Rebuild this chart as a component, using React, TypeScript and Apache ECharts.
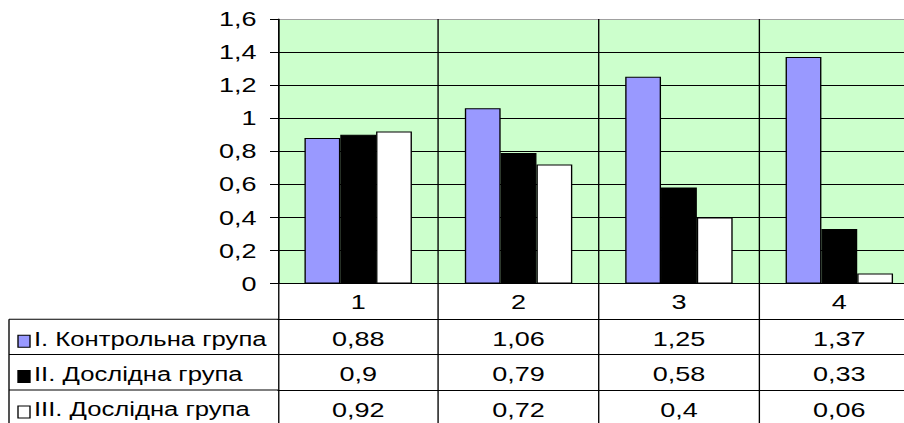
import React, { useEffect, useRef } from "react";
import * as echarts from "echarts";

const categories = ["1", "2", "3", "4"];
const seriesNames = ["I. Контрольна група", "II. Дослідна група", "III. Дослідна група"];
const controlGroup = [0.88, 1.06, 1.25, 1.37];
const experimentalGroup2 = [0.9, 0.79, 0.58, 0.33];
const experimentalGroup3 = [0.92, 0.72, 0.4, 0.06];
const seriesColors = ["#9999FF", "#000000", "#FFFFFF"];
const yMin = 0;
const yMax = 1.6;
const yStep = 0.2;

const SX = 1.35;
const W = 904;
const H = 423;
const CW = W / SX;
const FONT = "'Liberation Sans', Arial, sans-serif";
const FS = 20;

const fmt = (v: number) => String(v).replace(".", ",");

export default function App() {
  const ref = useRef<HTMLDivElement>(null);
  useEffect(() => {
    document.body.style.margin = "0";
    document.body.style.overflow = "hidden";
    if (!ref.current) return;
    const chart = echarts.init(ref.current, undefined, { renderer: "svg" });
    const allSeries = [controlGroup, experimentalGroup2, experimentalGroup3];

    const axisTop = 283.5;
    const rowH = 35.4;
    const firstRow = 35.7;

    const rowAxes = allSeries.map((vals, i) => ({
      type: "category",
      data: vals.map(fmt),
      position: "bottom",
      offset: firstRow + i * rowH,
      axisLine: { show: true, lineStyle: { color: "#000", width: 1 } },
      axisTick: { show: true, interval: 0, length: rowH, lineStyle: { color: "#000", width: 1 } },
      axisLabel: { interval: 0, margin: 9.5, fontSize: FS, color: "#000", fontFamily: FONT },
      splitLine: { show: false },
    }));

    const graphic: any[] = [];
    const tableLeft = 9 / SX;
    const tableRight = 278 / SX;
    for (let i = 0; i < 3; i++) {
      const y = axisTop + firstRow + i * rowH;
      graphic.push({
        type: "line",
        shape: { x1: tableLeft, y1: y, x2: tableRight, y2: y },
        style: { stroke: "#000", lineWidth: 1 },
      });
    }
    graphic.push({
      type: "line",
      shape: { x1: tableLeft, y1: axisTop + firstRow, x2: tableLeft, y2: H + 5 },
      style: { stroke: "#000", lineWidth: 1 },
    });
    seriesNames.forEach((name, i) => {
      const cy = axisTop + firstRow + i * rowH + 19.5;
      graphic.push({
        type: "rect",
        shape: { x: 18 / SX, y: cy - 3.5, width: 12 / SX, height: 12 },
        style: { fill: seriesColors[i], stroke: "#000", lineWidth: 1 },
      });
      graphic.push({
        type: "text",
        x: 34 / SX,
        y: cy,
        scaleX: 0.95,
        style: {
          text: name,
          fill: "#000",
          fontSize: FS,
          fontFamily: FONT,
          verticalAlign: "middle",
          align: "left",
        },
      });
    });

    const splitColors: string[] = [];
    for (let v = 0; v <= 8; v++) splitColors.push(v === 8 ? "#a0a0a0" : "#000");

    chart.setOption({
      animation: false,
      textStyle: { fontFamily: FONT },
      grid: {
        left: 278 / SX,
        right: CW - 919 / SX,
        top: 19,
        height: axisTop - 19,
        show: true,
        backgroundColor: "#CCFFCC",
        borderWidth: 0,
        outerBoundsMode: "none",
        containLabel: false,
      },
      xAxis: [
        {
          type: "category",
          data: categories,
          position: "bottom",
          axisLine: { show: true, lineStyle: { color: "#000", width: 1 } },
          axisTick: { show: true, interval: 0, length: firstRow, lineStyle: { color: "#000", width: 1 } },
          axisLabel: { interval: 0, margin: 8, fontSize: FS, color: "#000", fontFamily: FONT },
          splitLine: { show: true, interval: 0, lineStyle: { color: "#000", width: 1 } },
        },
        ...rowAxes,
      ],
      yAxis: {
        type: "value",
        min: yMin,
        max: yMax,
        interval: yStep,
        axisLine: { show: true, lineStyle: { color: "#000", width: 1 } },
        axisTick: { show: true, length: 8 / SX, lineStyle: { color: "#000", width: 1 } },
        axisLabel: {
          formatter: (v: number) => fmt(Math.round(v * 10) / 10),
          margin: 21.5 / SX,
          padding: [5, 0, 0, 0],
          fontSize: FS,
          color: "#000",
          fontFamily: FONT,
        },
        splitLine: { show: true, lineStyle: { color: splitColors, width: 1 } },
      },
      series: allSeries.map((vals, i) => ({
        name: seriesNames[i],
        type: "bar",
        xAxisIndex: 0,
        data: vals,
        barGap: "0%",
        barCategoryGap: "33%",
        itemStyle: { color: seriesColors[i], borderColor: "#000", borderWidth: 1 },
      })),
      graphic,
    });
    return () => chart.dispose();
  }, []);
  return (
    <div
      ref={ref}
      style={{
        width: CW,
        height: H,
        transform: `scaleX(${SX})`,
        transformOrigin: "0 0",
      }}
    />
  );
}
